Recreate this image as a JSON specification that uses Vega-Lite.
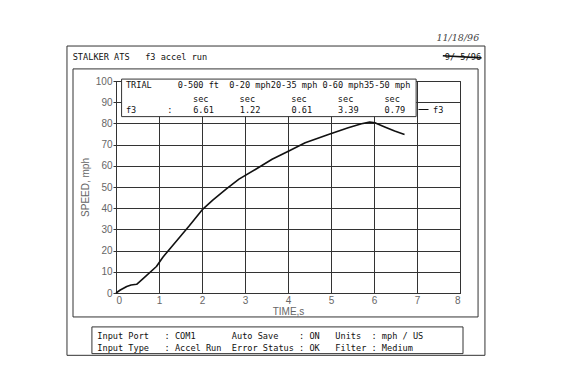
{
  "$schema": "https://vega.github.io/schema/vega-lite/v6.json",
  "autosize": "none",
  "width": 344,
  "height": 212,
  "padding": {"left": 116, "top": 81, "right": 106, "bottom": 85},
  "background": "white",
  "config": {
    "view": {"stroke": "#333", "strokeWidth": 1},
    "text": {"font": "DejaVu Sans Mono", "fontSize": 8.6, "color": "#111", "align": "left", "baseline": "middle"},
    "axis": {"grid": true, "gridColor": "#333", "gridOpacity": 1, "domainColor": "#333", "tickColor": "#333", "labelFont": "Liberation Sans", "labelFontSize": 10, "labelColor": "#666", "labelOverlap": false, "titleFont": "Liberation Sans", "titleFontSize": 10, "titleFontWeight": "normal", "titleColor": "#666"},
    "axisX": {"tickCount": 8, "ticks": false, "labelPadding": 2, "titlePadding": 1},
    "axisY": {"tickCount": 10, "tickSize": 3, "labelPadding": 1, "titlePadding": 5}
  },
  "layer": [
    {
      "data": {"values": [{"trial": "f3", "t": 0, "speed": 0}, {"trial": "f3", "t": 0.1, "speed": 1.4}, {"trial": "f3", "t": 0.25, "speed": 3.1}, {"trial": "f3", "t": 0.35, "speed": 3.8}, {"trial": "f3", "t": 0.48, "speed": 4.1}, {"trial": "f3", "t": 0.63, "speed": 6.8}, {"trial": "f3", "t": 0.94, "speed": 12.5}, {"trial": "f3", "t": 1.09, "speed": 16.9}, {"trial": "f3", "t": 1.25, "speed": 20.8}, {"trial": "f3", "t": 1.48, "speed": 26.3}, {"trial": "f3", "t": 1.71, "speed": 31.8}, {"trial": "f3", "t": 2.02, "speed": 39.6}, {"trial": "f3", "t": 2.25, "speed": 43.8}, {"trial": "f3", "t": 2.56, "speed": 49}, {"trial": "f3", "t": 2.86, "speed": 53.7}, {"trial": "f3", "t": 3.25, "speed": 58.4}, {"trial": "f3", "t": 3.63, "speed": 63.1}, {"trial": "f3", "t": 4.02, "speed": 67}, {"trial": "f3", "t": 4.4, "speed": 70.9}, {"trial": "f3", "t": 4.94, "speed": 74.8}, {"trial": "f3", "t": 5.4, "speed": 77.9}, {"trial": "f3", "t": 5.71, "speed": 79.8}, {"trial": "f3", "t": 5.9, "speed": 80.6}, {"trial": "f3", "t": 6.02, "speed": 80.3}, {"trial": "f3", "t": 6.25, "speed": 78.3}, {"trial": "f3", "t": 6.48, "speed": 76.4}, {"trial": "f3", "t": 6.71, "speed": 74.8}]},
      "mark": {"type": "line", "strokeWidth": 1.6, "strokeJoin": "round"},
      "encoding": {
        "x": {"field": "t", "type": "quantitative", "title": "TIME,s", "scale": {"domain": [0, 8], "nice": false, "zero": false}},
        "y": {"field": "speed", "type": "quantitative", "title": "SPEED, mph", "scale": {"domain": [0, 100], "nice": false, "zero": false}},
        "color": {"field": "trial", "type": "nominal", "scale": {"range": ["#111"]},
          "legend": {"title": null, "orient": "none", "legendX": 302, "legendY": 23, "symbolType": "stroke", "symbolSize": 100, "symbolStrokeWidth": 1, "labelFont": "DejaVu Sans Mono", "labelFontSize": 8.6, "labelColor": "#111", "labelOffset": 4}}
      }
    },
    {
      "data": {"values": [{"box": "outer"}]},
      "mark": {"type": "rect", "fill": null, "stroke": "#333", "strokeWidth": 1},
      "encoding": {"x": {"datum": -1.14}, "x2": {"datum": 8.58}, "y": {"datum": 116.5}, "y2": {"datum": -29.4}}
    },
    {
      "data": {"values": [{"box": "inner"}]},
      "mark": {"type": "rect", "fill": null, "stroke": "#333", "strokeWidth": 1},
      "encoding": {"x": {"datum": -1.0}, "x2": {"datum": 8.42}, "y": {"datum": 105.7}, "y2": {"datum": -11.3}}
    },
    {
      "data": {"values": [{"box": "info"}]},
      "mark": {"type": "rect", "fill": null, "stroke": "#333", "strokeWidth": 1},
      "encoding": {"x": {"datum": -0.56}, "x2": {"datum": 8.07}, "y": {"datum": -16.0}, "y2": {"datum": -28.6}}
    },
    {
      "data": {"values": [{"box": "table"}]},
      "mark": {"type": "rect", "fill": "white", "stroke": "#333", "strokeWidth": 1},
      "encoding": {"x": {"datum": 0.13}, "x2": {"datum": 6.98}, "y": {"datum": 100.9}, "y2": {"datum": 83.2}}
    },
    {
      "data": {"values": [{"text": "STALKER\u00a0ATS\u00a0\u00a0\u00a0f3\u00a0accel\u00a0run"}]},
      "mark": {"type": "text"},
      "encoding": {"x": {"datum": -1.007}, "y": {"datum": 111.2}, "text": {"field": "text"}}
    },
    {
      "data": {"values": [{"text": "9/\u00a05/96"}]},
      "mark": {"type": "text", "align": "right"},
      "encoding": {"x": {"datum": 8.49}, "y": {"datum": 111.2}, "text": {"field": "text"}}
    },
    {
      "data": {"values": [{"mark": "strike"}]},
      "mark": {"type": "rule", "stroke": "#111", "strokeWidth": 1.6},
      "encoding": {"x": {"datum": 7.6}, "x2": {"datum": 8.5}, "y": {"datum": 111.9}, "y2": {"datum": 110.9}}
    },
    {
      "data": {"values": [{"text": "11/18/96"}]},
      "mark": {"type": "text", "align": "center", "font": "DejaVu Serif", "fontStyle": "italic", "fontSize": 9.5, "color": "#444"},
      "encoding": {"x": {"datum": 7.95}, "y": {"datum": 120.3}, "text": {"field": "text"}}
    },
    {
      "data": {"values": [{"text": "TRIAL\u00a0\u00a0\u00a0\u00a0\u00a00-500\u00a0ft\u00a0\u00a00-20\u00a0mph20-35\u00a0mph\u00a00-60\u00a0mph35-50\u00a0mph"}]},
      "mark": {"type": "text"},
      "encoding": {"x": {"datum": 0.23}, "y": {"datum": 98.1}, "text": {"field": "text"}}
    },
    {
      "data": {"values": [{"text": "sec\u00a0\u00a0\u00a0\u00a0\u00a0\u00a0sec\u00a0\u00a0\u00a0\u00a0\u00a0\u00a0\u00a0sec\u00a0\u00a0\u00a0\u00a0\u00a0\u00a0sec\u00a0\u00a0\u00a0\u00a0\u00a0\u00a0sec"}]},
      "mark": {"type": "text"},
      "encoding": {"x": {"datum": 1.79}, "y": {"datum": 91.5}, "text": {"field": "text"}}
    },
    {
      "data": {"values": [{"text": "f3\u00a0\u00a0\u00a0\u00a0\u00a0\u00a0:\u00a0\u00a0\u00a0\u00a06.61\u00a0\u00a0\u00a0\u00a0\u00a01.22\u00a0\u00a0\u00a0\u00a0\u00a0\u00a00.61\u00a0\u00a0\u00a0\u00a0\u00a03.39\u00a0\u00a0\u00a0\u00a0\u00a00.79"}]},
      "mark": {"type": "text"},
      "encoding": {"x": {"datum": 0.23}, "y": {"datum": 86.3}, "text": {"field": "text"}}
    },
    {
      "data": {"values": [{"text": "Input\u00a0Port\u00a0\u00a0\u00a0:\u00a0COM1\u00a0\u00a0\u00a0\u00a0\u00a0\u00a0\u00a0Auto\u00a0Save\u00a0\u00a0\u00a0\u00a0:\u00a0ON\u00a0\u00a0\u00a0Units\u00a0\u00a0:\u00a0mph\u00a0/\u00a0US"}]},
      "mark": {"type": "text"},
      "encoding": {"x": {"datum": -0.435}, "y": {"datum": -20.3}, "text": {"field": "text"}}
    },
    {
      "data": {"values": [{"text": "Input\u00a0Type\u00a0\u00a0\u00a0:\u00a0Accel\u00a0Run\u00a0\u00a0Error\u00a0Status\u00a0:\u00a0OK\u00a0\u00a0\u00a0Filter\u00a0:\u00a0Medium"}]},
      "mark": {"type": "text"},
      "encoding": {"x": {"datum": -0.435}, "y": {"datum": -25.8}, "text": {"field": "text"}}
    }
  ]
}
